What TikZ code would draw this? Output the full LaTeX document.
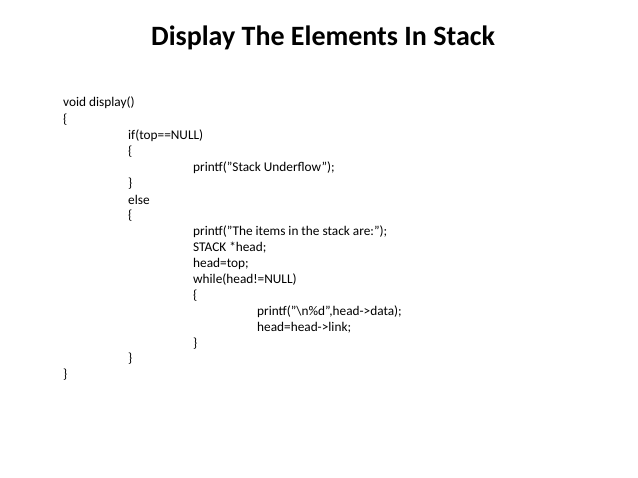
\documentclass[tikz,border=0pt]{standalone}
\usepackage{fontspec}
\setmainfont{Carlito}
\newcommand{\qq}{\symbol{34}}
\begin{document}
\begin{tikzpicture}[x=1pt,y=-1pt,code/.style={anchor=west,inner sep=0pt,font=\fontsize{13.3}{15}\selectfont}]
\useasboundingbox (0,0) rectangle (638,478);
\node[font=\bfseries\fontsize{28}{32}\selectfont] (title) at (323,38) {Display The Elements In Stack};
\node[code] (l1) at (63,103) {void display()};
\node[code] (l2) at (63,120) {\{};
\node[code] (l3) at (128,136) {if(top==NULL)};
\node[code] (l4) at (128,152) {\{};
\node[code] (l5) at (193,168) {printf(\qq Stack Underflow\qq);};
\node[code] (l6) at (128,184) {\}};
\node[code] (l7) at (128,200) {else};
\node[code] (l8) at (128,216) {\{};
\node[code] (l9) at (193,232) {printf(\qq The items in the stack are:\qq);};
\node[code] (l10) at (193,248) {STACK *head;};
\node[code] (l11) at (193,264) {head=top;};
\node[code] (l12) at (193,280) {while(head!=NULL)};
\node[code] (l13) at (193,296) {\{};
\node[code] (l14) at (257,312) {printf(\qq\textbackslash n\%d\qq,head->data);};
\node[code] (l15) at (257,328) {head=head->link;};
\node[code] (l16) at (193,344) {\}};
\node[code] (l17) at (128,359) {\}};
\node[code] (l18) at (63,375) {\}};
\end{tikzpicture}
\end{document}
